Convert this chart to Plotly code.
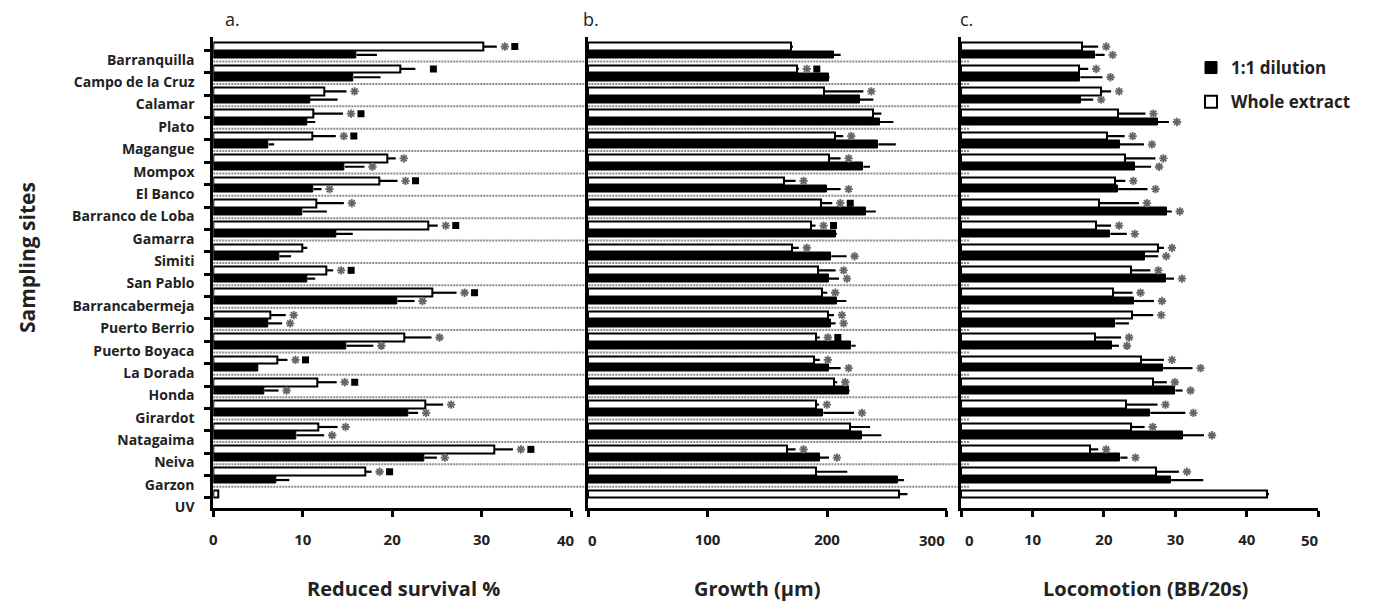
import plotly.graph_objects as go

# ---------------- data ----------------
sites = ["Barranquilla", "Campo de la Cruz", "Calamar", "Plato", "Magangue", "Mompox",
         "El Banco", "Barranco de Loba", "Gamarra", "Simiti", "San Pablo", "Barrancabermeja",
         "Puerto Berrio", "Puerto Boyaca", "La Dorada", "Honda", "Girardot", "Natagaima",
         "Neiva", "Garzon", "UV"]

# a. Reduced survival %
surv_whole = [30.2, 20.9, 12.4, 11.2, 11.1, 19.5, 18.6, 11.5, 24.0, 9.9, 12.6, 24.5, 6.4, 21.4,
              7.2, 11.6, 23.7, 11.7, 31.4, 17.0, 0.6]
surv_whole_err = [1.5, 1.7, 2.5, 3.3, 2.6, 0.9, 2.0, 3.1, 1.1, 0.6, 0.8, 2.7, 1.7, 3.0,
                  1.1, 2.2, 2.0, 2.2, 2.1, 0.7, 0]
surv_dil = [16.0, 15.7, 10.8, 10.5, 6.2, 14.7, 11.2, 10.0, 13.7, 7.4, 10.5, 20.6, 6.1, 14.9,
            5.0, 5.7, 21.8, 9.3, 23.6, 7.0, None]
surv_dil_err = [2.3, 3.0, 3.1, 0.9, 0.6, 2.2, 0.9, 2.7, 1.9, 1.3, 0.9, 1.9, 1.6, 3.0,
                0, 1.6, 1.1, 3.1, 1.4, 1.5, 0]
surv_whole_sig = ["*■", "■", "*", "*■", "*■", "*", "*■", "*", "*■", "", "*■", "*■", "*", "*",
                  "*■", "*■", "*", "*", "*■", "*■", ""]
surv_dil_sig = ["", "", "", "", "", "*", "*", "", "", "", "", "*", "*", "*",
                "", "*", "*", "*", "*", "", ""]

# b. Growth (µm)
growth_whole = [169.5, 174.5, 197.4, 238.8, 206.4, 201.6, 163.9, 195.2, 186.2, 170.9, 192.4,
                196.0, 200.8, 190.4, 189.0, 205.8, 191.0, 219.2, 166.7, 190.4, 260.3]
growth_whole_err = [2, 1.9, 33.0, 6.7, 7.2, 9.8, 9.8, 9.2, 4.2, 5.5, 14.8,
                    4.2, 5.0, 3.6, 5.0, 2.8, 2.2, 16.8, 7.0, 26.6, 7.0]
growth_dil = [205.8, 201.6, 227.6, 244.4, 243.0, 230.4, 199.7, 232.4, 207.2, 203.6, 201.6,
              208.1, 203.0, 220.4, 201.6, 218.4, 196.9, 229.0, 194.0, 259.0, None]
growth_dil_err = [5.6, 0.5, 11.2, 11.2, 14.6, 5.6, 11.7, 8.4, 1.0, 12.8, 8.4,
                  8.1, 4.2, 3.6, 9.8, 0.5, 25.7, 16.5, 7.6, 5.5, 0]
growth_whole_sig = ["", "*■", "*", "", "*", "*", "*", "*■", "*■", "*", "*",
                    "*", "*", "*■", "*", "*", "*", "", "*", "", ""]
growth_dil_sig = ["", "", "", "", "", "", "*", "", "", "*", "*",
                  "", "*", "", "*", "", "*", "", "*", "", ""]

# c. Locomotion (BB/20s)
loco_whole = [16.9, 16.5, 19.6, 21.9, 20.4, 22.9, 21.6, 19.3, 18.9, 27.5, 23.8, 21.2, 23.9,
              18.8, 25.2, 26.9, 23.1, 23.8, 18.0, 27.3, 42.8]
loco_whole_err = [2.3, 1.3, 1.4, 3.9, 2.5, 4.3, 1.4, 5.6, 2.1, 0.9, 2.7, 2.8, 3.0,
                  3.6, 3.2, 1.9, 4.4, 1.9, 1.2, 3.2, 0.3]
loco_dil = [18.8, 16.7, 16.8, 27.5, 22.2, 24.3, 22.0, 28.8, 20.9, 25.7, 28.7, 24.2, 21.6,
            21.1, 28.2, 30.0, 26.5, 31.0, 22.3, 29.4, None]
loco_dil_err = [1.3, 3.1, 1.7, 1.6, 3.4, 2.3, 4.1, 0.7, 2.3, 1.9, 1.1, 2.8, 1.9,
                1.0, 4.2, 1.0, 4.9, 3.0, 1.0, 4.5, 0]
loco_whole_sig = ["*"] * 20 + [""]
loco_dil_sig = ["*", "*", "*", "*", "*", "*", "*", "*", "*", "*", "*", "*", "",
                "*", "*", "*", "*", "*", "*", "", ""]

x_ticks_a = [0, 10, 20, 30, 40]
x_ticks_b = [0, 100, 200, 300]
x_ticks_c = [0, 10, 20, 30, 40, 50]
titles = ["Reduced survival %", "Growth (µm)", "Locomotion (BB/20s)"]
letters = ["a.", "b.", "c."]
legend_names = ["1:1 dilution", "Whole extract"]

# ---------------- layout geometry (screen pixels) ----------------
SCREEN_W, SCREEN_H = 1376, 610
OFF = 8                       # page body margin
W, H = SCREEN_W - 2 * OFF, SCREEN_H - 2 * OFF


def px_x(px):
    return (px - OFF) / W


def px_y(py):
    return 1 - (py - OFF) / H


TOP, BOT = 36.5, 508
doms_px = [(213.3, 571.0), (588.0, 946.5), (961.0, 1318.3)]
ranges = [(0, 40), (0, 300), (0, 50)]
n = len(sites)
pos_whole = [i - 0.17 for i in range(n)]
pos_dil = [i + 0.20 for i in range(n)]
FONT = "Open Sans"
TICKFONT = dict(family=FONT, size=15, color="#222", weight="bold")
# end tick labels that the original nudges inwards (pixels)
end_nudge = [{40: -5}, {0: 4, 300: -15}, {0: 9, 50: -8}]

panels = [
    (surv_whole, surv_whole_err, surv_dil, surv_dil_err, surv_whole_sig, surv_dil_sig, x_ticks_a),
    (growth_whole, growth_whole_err, growth_dil, growth_dil_err, growth_whole_sig, growth_dil_sig, x_ticks_b),
    (loco_whole, loco_whole_err, loco_dil, loco_dil_err, loco_whole_sig, loco_dil_sig, x_ticks_c),
]

fig = go.Figure()
annotations = []

for k, (wv, we, dv, de, ws, ds, xt) in enumerate(panels):
    xa = "x" if k == 0 else f"x{k+1}"
    ya = "y" if k == 0 else f"y{k+1}"
    px_per_unit = (doms_px[k][1] - doms_px[k][0]) / (ranges[k][1] - ranges[k][0])

    # 1:1 dilution (black)
    fig.add_trace(go.Bar(
        x=dv, y=pos_dil, orientation="h", width=0.34, name=legend_names[0],
        marker=dict(color="black", line=dict(color="black", width=1)),
        error_x=dict(type="data", array=de, arrayminus=[0] * n, symmetric=False,
                     color="black", thickness=2.2, width=0),
        xaxis=xa, yaxis=ya, showlegend=(k == 0), legendrank=1, legendgroup="dil"))
    # whole extract (white)
    fig.add_trace(go.Bar(
        x=wv, y=pos_whole, orientation="h", width=0.34, name=legend_names[1],
        marker=dict(color="white", line=dict(color="black", width=2)),
        error_x=dict(type="data", array=we, arrayminus=[0] * n, symmetric=False,
                     color="black", thickness=2.2, width=0),
        xaxis=xa, yaxis=ya, showlegend=(k == 0), legendrank=2, legendgroup="whole"))

    # significance markers
    ast_x, ast_y, sq_x, sq_y = [], [], [], []
    for vals, errs, sigs, pos in ((wv, we, ws, pos_whole), (dv, de, ds, pos_dil)):
        for i in range(n):
            if vals[i] is None or not sigs[i]:
                continue
            end = vals[i] + errs[i]
            if "*" in sigs[i]:
                ast_x.append(end + 8 / px_per_unit)
                ast_y.append(pos[i])
            if "■" in sigs[i]:
                sq_x.append(end + 18 / px_per_unit)
                sq_y.append(pos[i])
    fig.add_trace(go.Scatter(
        x=ast_x, y=ast_y, mode="markers", xaxis=xa, yaxis=ya, showlegend=False,
        marker=dict(symbol="asterisk", size=7, color="#666",
                    line=dict(color="#666", width=1.8))))
    fig.add_trace(go.Scatter(
        x=sq_x, y=sq_y, mode="markers", xaxis=xa, yaxis=ya, showlegend=False,
        marker=dict(symbol="square", size=7, color="black", line=dict(width=0))))

    ttext = []
    for t in xt:
        if t in end_nudge[k]:
            ttext.append("")
            annotations.append(dict(text=str(t), x=t, xref=xa, y=px_y(540), yref="paper",
                                    xshift=end_nudge[k][t], showarrow=False,
                                    xanchor="center", yanchor="middle", font=TICKFONT))
        else:
            ttext.append(str(t))

    dom = [px_x(doms_px[k][0]), px_x(doms_px[k][1])]
    xaxis = dict(domain=dom, range=list(ranges[k]), tickvals=xt, ticktext=ttext,
                 showline=True, linecolor="black", linewidth=3, ticks="outside", ticklen=6,
                 tickwidth=3, tickcolor="black", showgrid=False, zeroline=False,
                 tickfont=TICKFONT, ticklabelstandoff=10, anchor=ya, automargin=False,
                 fixedrange=True)
    yaxis = dict(domain=[px_y(BOT), px_y(TOP)], range=[n - 1 + 0.45, -0.62],
                 showline=True, linecolor="black", linewidth=3, showgrid=False,
                 zeroline=False, anchor=xa, automargin=False, fixedrange=True)
    if k == 0:
        yaxis.update(tickvals=[i + 0.42 for i in range(n)], ticktext=sites, ticks="",
                     tickfont=dict(family=FONT, size=14, color="#222", weight="bold"),
                     ticklabelstandoff=13,
                     minor=dict(tickmode="array", tickvals=list(range(n)), ticks="outside",
                                ticklen=6, tickwidth=3, tickcolor="black"))
    else:
        yaxis.update(showticklabels=False, ticks="", matches="y")
    fig.update_layout(**{("xaxis" if k == 0 else f"xaxis{k+1}"): xaxis,
                         ("yaxis" if k == 0 else f"yaxis{k+1}"): yaxis})

# dotted separators between sites
shapes = []
for i in range(n - 1):
    yv = i + 0.5
    shapes.append(dict(type="line", xref="paper", yref="y", x0=px_x(doms_px[0][0]),
                       x1=px_x(doms_px[2][0]), y0=yv, y1=yv,
                       line=dict(color="#8a8a8a", width=2, dash="2px,1px"), layer="below"))
    shapes.append(dict(type="line", xref="x3", yref="y", x0=0, x1=1.2, y0=yv, y1=yv,
                       line=dict(color="#8a8a8a", width=2, dash="2px,1px"), layer="below"))

title_x = [403, 757, 1145]
letter_x = [223, 581, 958]
for k in range(3):
    annotations.append(dict(text=titles[k], x=px_x(title_x[k]), y=px_y(588), xref="paper",
                            yref="paper", showarrow=False, xanchor="center", yanchor="middle",
                            font=dict(family=FONT, size=20, color="#222", weight="bold")))
    annotations.append(dict(text=letters[k], x=px_x(letter_x[k]), y=px_y(19), xref="paper",
                            yref="paper", showarrow=False, xanchor="left", yanchor="middle",
                            font=dict(family=FONT, size=18, color="#222")))
annotations.append(dict(text="Sampling sites", x=px_x(27), y=px_y(258), xref="paper",
                        yref="paper", showarrow=False, textangle=-90, xanchor="center",
                        yanchor="middle",
                        font=dict(family=FONT, size=21, color="#222", weight="bold")))

fig.update_layout(
    width=W, height=H, margin=dict(l=0, r=0, t=0, b=0), autosize=False,
    paper_bgcolor="white", plot_bgcolor="white", barmode="overlay", bargap=0,
    shapes=shapes, annotations=annotations,
    legend=dict(x=px_x(1191), y=px_y(50), xanchor="left", yanchor="top",
                font=dict(family=FONT, size=17, color="#222", weight="bold"),
                bgcolor="rgba(0,0,0,0)", traceorder="grouped", tracegroupgap=9,
                itemclick=False, itemdoubleclick=False),
    font=dict(family=FONT, color="#222"),
)

fig.write_html("out.html")
